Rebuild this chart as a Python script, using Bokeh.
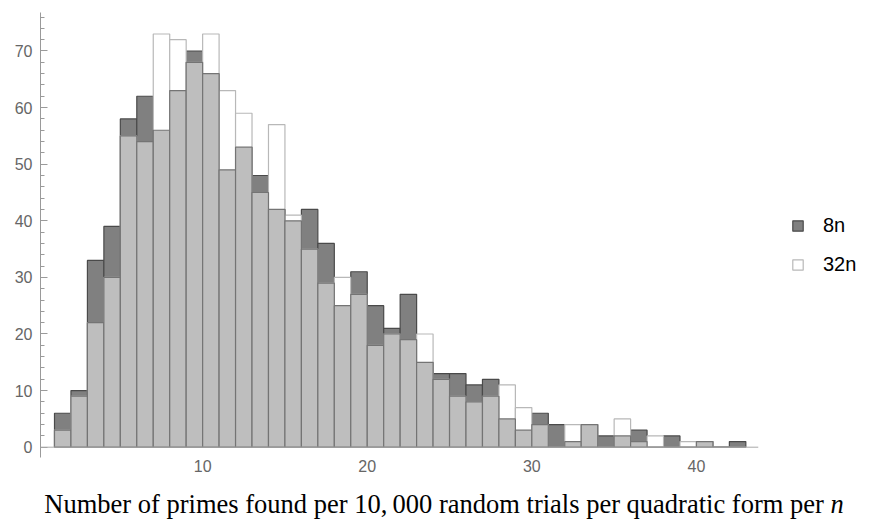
import numpy as np
from bokeh.plotting import figure
from bokeh.layouts import column
from bokeh.models import Range1d, Span, Legend, LegendItem, SingleIntervalTicker, FixedTicker, Div
from bokeh.embed import file_html
from bokeh.resources import INLINE

# histogram bins (width 1), left edges 1..42
bin_left = list(range(1, 43))
counts_8n = [6, 10, 33, 39, 58, 62, 56, 63, 70, 66, 49, 53, 48, 42, 40, 42, 36, 25, 31, 25, 21,
             27, 15, 13, 13, 11, 12, 5, 3, 6, 4, 1, 4, 2, 2, 3, 0, 2, 0, 1, 0, 1]
counts_32n = [3, 9, 22, 30, 55, 54, 73, 72, 68, 73, 63, 59, 45, 57, 41, 35, 29, 30, 27, 18, 20,
              19, 20, 12, 9, 8, 9, 11, 7, 4, 0, 4, 4, 0, 5, 1, 2, 0, 1, 1, 0, 0]
x_ticks = [10, 20, 30, 40]
series_names = ["8n", "32n"]

left = np.array(bin_left, dtype=float)
right = left + 1
a = np.array(counts_8n, dtype=float)
b = np.array(counts_32n, dtype=float)
overlap = np.minimum(a, b)

p = figure(width=869, height=488, frame_width=718, frame_height=445,
           min_border_left=40, min_border_top=12, min_border_right=111, min_border_bottom=31,
           x_range=Range1d(0.15, 43.77), y_range=Range1d(-1.82, 76.8),
           output_backend="svg", toolbar_location=None)
p.outline_line_color = None
p.grid.visible = False
p.background_fill_color = "white"
p.border_fill_color = "white"

r8 = p.quad(left=left, right=right, bottom=0, top=a, fill_color="#808080",
            line_color="#4a4a4a", line_width=1.2)
r32 = p.quad(left=left, right=right, bottom=0, top=b, fill_color="white",
             line_color="#b8b8b8", line_width=1.2)
p.quad(left=left, right=right, bottom=0, top=overlap, fill_color="#bebebe",
       line_color="#747474", line_width=1.2)

p.add_layout(Span(location=0, dimension="width", line_color="#a8a8a8", line_width=1))

# y axis
ya = p.yaxis[0]
ya.ticker = SingleIntervalTicker(interval=10, num_minor_ticks=5)
ya.axis_line_color = "#9a9a9a"
ya.major_tick_line_color = "#9a9a9a"
ya.minor_tick_line_color = "#9a9a9a"
ya.major_tick_in = 7
ya.major_tick_out = 0
ya.minor_tick_in = 4
ya.minor_tick_out = 0
ya.major_label_standoff = 8
ya.major_label_text_font = "Liberation Sans"
ya.major_label_text_font_size = "16px"
ya.major_label_text_color = "#666666"

# x axis
xa = p.xaxis[0]
xa.ticker = FixedTicker(ticks=x_ticks)
xa.axis_line_color = None
xa.major_tick_line_color = None
xa.minor_tick_line_color = None
xa.major_label_standoff = -4
xa.major_label_text_font = "Liberation Sans"
xa.major_label_text_font_size = "16px"
xa.major_label_text_color = "#666666"

legend = Legend(items=[LegendItem(label=series_names[0], renderers=[r8]),
                       LegendItem(label=series_names[1], renderers=[r32])],
                location=(33, 181), orientation="vertical",
                glyph_width=13, glyph_height=13, label_standoff=19, label_height=20,
                spacing=16, padding=0, margin=0, border_line_color=None,
                background_fill_alpha=0,
                label_text_font="Liberation Sans", label_text_font_size="20px",
                label_text_color="black")
p.add_layout(legend, "right")

xlabel = Div(text="Number of primes found per 10,&#8201;000 random trials per quadratic form per <i>n</i>",
             width=869, height=33, margin=(0, 0, 0, 0),
             styles={"font-family": "'Liberation Serif', serif", "font-size": "26.5px",
                     "line-height": "32px", "color": "black", "white-space": "nowrap",
                     "padding-left": "19px", "text-align": "center", "box-sizing": "border-box",
                     "width": "869px"})

layout = column(p, xlabel, spacing=0)

open("out.html", "w").write(file_html(layout, INLINE))
